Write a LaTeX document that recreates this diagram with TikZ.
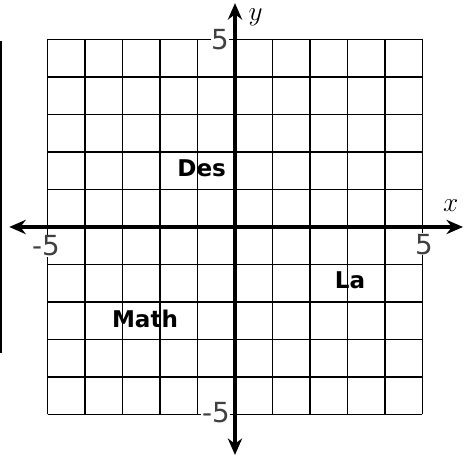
\documentclass[tikz,border=0pt]{standalone}
\usepackage{fontspec}
\newfontfamily\labfont{DejaVu Sans}
\usetikzlibrary{arrows.meta}

\begin{document}
\begin{tikzpicture}[x=1cm, y=1cm,
	gridline/.style={black, line width=1.1pt},
	axisline/.style={black, line width=2.6pt, {Stealth[length=4.4mm, width=3.8mm]}-{Stealth[length=4.4mm, width=3.8mm]}},
	ticklab/.style={fill=white, inner sep=0.5pt, text=black!75, font=\labfont\fontsize{21}{23}\selectfont},
	word/.style={anchor=base, inner sep=0pt, font=\labfont\bfseries\fontsize{17.5}{20}\selectfont}]
	
	\useasboundingbox (-6.267,-6.16) rectangle (6.187,6.053);
	
	\draw[black, line width=1.5pt] (-6.24,4.96) -- (-6.24,-3.36);
	
	\draw[gridline, step=1] (-5,-5) grid (5,5);
	
	\coordinate (xl) at (-6.02,0);
	\coordinate (xr) at (6.08,0);
	\coordinate (yb) at (0,-6.08);
	\coordinate (yt) at (0,5.97);
	\draw[axisline] (xl) -- (xr);
	\draw[axisline] (yb) -- (yt);
	
	\node (xlab) at (5.75,0.56) {\fontsize{22}{24}\selectfont$x$};
	\node (ylab) at (0.55,5.58) {\fontsize{22}{24}\selectfont$y$};
	
	\node[ticklab] (t1) at (-0.4,4.99) {5};
	\node[ticklab] (t2) at (-5.04,-0.5) {-5};
	\node[ticklab] (t3) at (5.04,-0.46) {5};
	\node[ticklab] (t4) at (-0.51,-4.96) {-5};
	
	\node[word] (des) at (-0.89,1.34) {Des};
	\node[word] (la) at (3.07,-1.65) {La};
	\node[word] (math) at (-2.4,-2.69) {Math};
\end{tikzpicture}
\end{document}
